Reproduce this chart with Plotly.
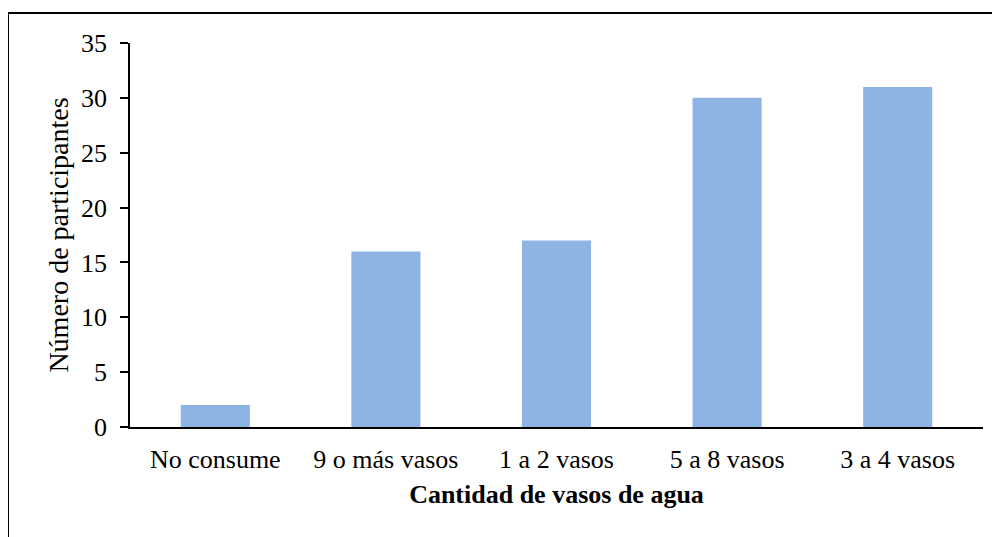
import plotly.graph_objects as go

categories = ["No consume", "9 o más vasos", "1 a 2 vasos", "5 a 8 vasos", "3 a 4 vasos"]
values = [2, 16, 17, 30, 31]
y_ticks = [0, 5, 10, 15, 20, 25, 30, 35]
x_title = "Cantidad de vasos de agua"
y_title = "Número de participantes"

OFF = 8  # page body margin
W, H = 1000, 537
L, R, T, B = 130 - OFF, W - 983 + OFF, 43 - OFF, H - 427 + OFF
pw, ph = W - L - R, H - T - B

font = "Liberation Serif, Times New Roman, serif"
FS = 26

fig = go.Figure(go.Bar(x=categories, y=values, marker=dict(color="#8EB4E3", line=dict(width=0))))

fig.update_layout(
    width=W, height=H,
    margin=dict(l=L, r=R, t=T, b=B),
    paper_bgcolor="white", plot_bgcolor="white",
    bargap=0.595,
    showlegend=False,
    font=dict(family=font, color="black", size=FS),
    xaxis=dict(
        showline=True, linecolor="black", linewidth=1.5,
        ticks="", tickfont=dict(size=FS), ticklabelstandoff=8,
        title=dict(text="<b>" + x_title + "</b>", font=dict(size=FS), standoff=12),
    ),
    yaxis=dict(
        range=[0, 35], tickvals=y_ticks, showgrid=False, zeroline=False,
        showline=True, linecolor="black", linewidth=1.5,
        ticks="outside", ticklen=8, tickcolor="black", tickwidth=1.5,
        tickfont=dict(size=FS), ticklabelstandoff=8,
        title=dict(text=y_title, font=dict(size=28), standoff=4),
    ),
    shapes=[dict(
        type="rect", xref="paper", yref="paper",
        x0=(8 - OFF - L) / pw, x1=(W + 10 - L) / pw,
        y0=-(H + 10 - T - ph) / ph, y1=(T + ph - (13 - OFF)) / ph,
        line=dict(color="black", width=2), fillcolor="rgba(0,0,0,0)", layer="above",
    )],
)

fig.write_html("out.html")
